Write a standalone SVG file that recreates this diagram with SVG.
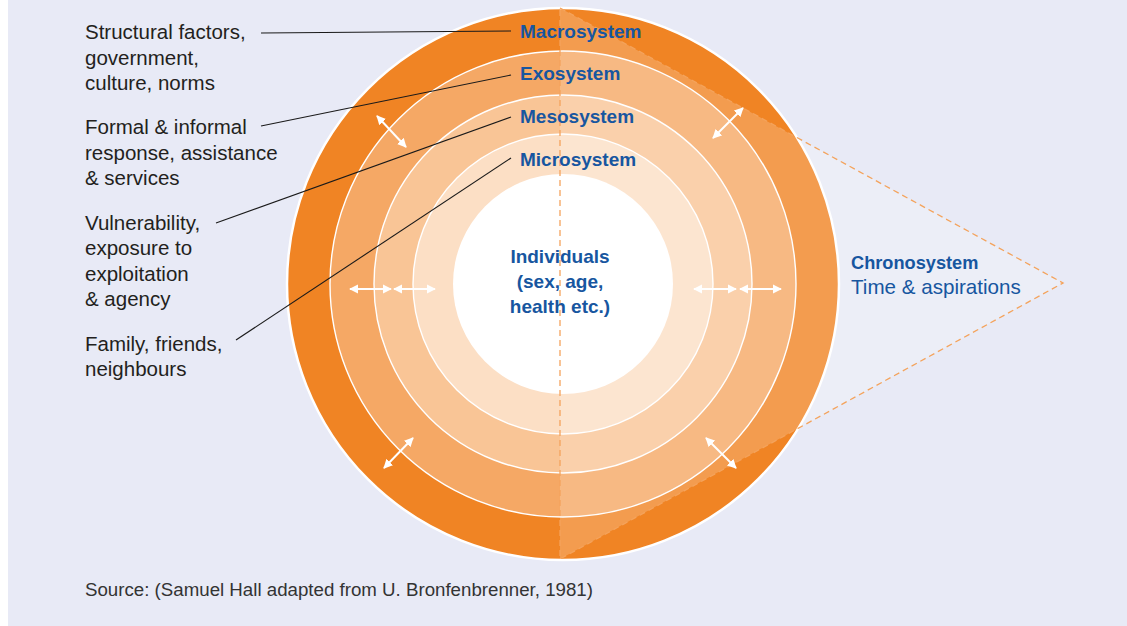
<svg xmlns="http://www.w3.org/2000/svg" width="1127" height="626" viewBox="0 0 1127 626">
<style>
.lbl{font-family:"Liberation Sans",Arial,sans-serif;font-size:20.5px;fill:#231f20}
.sys{font-family:"Liberation Sans",Arial,sans-serif;font-size:19px;font-weight:bold;fill:#1756a0}
.ring{stroke:#ffffff;stroke-width:1.4}
.lead{stroke:#1a1a1a;stroke-width:1.1;fill:none}
.arr{stroke:#ffffff;stroke-width:2;fill:none;marker-start:url(#ah);marker-end:url(#ah)}
</style>
<defs>
<marker id="ah" viewBox="0 0 10 10" refX="9" refY="5" markerWidth="4.6" markerHeight="4.6" orient="auto-start-reverse" markerUnits="strokeWidth">
<path d="M0,0 L10,5 L0,10 z" fill="#ffffff"/>
</marker>
</defs>
<rect x="0" y="0" width="1127" height="626" fill="#ffffff"/>
<rect x="8" y="0" width="1119" height="626" fill="#e8eaf6"/>

<g id="macrosystem"><circle cx="563" cy="284" r="276" fill="#f08424" stroke="#ffffff" stroke-width="2.5"/></g>
<g id="exosystem"><circle class="ring" cx="563" cy="284" r="233" fill="#f5a865"/></g>
<g id="mesosystem"><circle class="ring" cx="563" cy="284" r="189" fill="#f9c596"/></g>
<g id="microsystem"><circle class="ring" cx="563" cy="284" r="150" fill="#fcdfc5"/></g>
<g id="individuals"><circle cx="563" cy="284" r="110" fill="#ffffff"/></g>

<g id="chronosystem">
<polygon points="560,8 1063,283 560,559" fill="#ffffff" fill-opacity="0.2" stroke="#f4a35c" stroke-width="1.3" stroke-dasharray="6 4"/>
</g>

<g id="connectors">
<line class="lead" x1="261" y1="33" x2="511" y2="31"/>
<line class="lead" x1="261" y1="126" x2="511" y2="75"/>
<line class="lead" x1="216" y1="223" x2="511" y2="117"/>
<line class="lead" x1="236" y1="340" x2="511" y2="158"/>
<line class="arr" x1="350" y1="289" x2="391" y2="289"/>
<line class="arr" x1="394" y1="289" x2="435" y2="289"/>
<line class="arr" x1="694" y1="289" x2="736" y2="289"/>
<line class="arr" x1="740" y1="289" x2="781" y2="289"/>
<line class="arr" x1="377" y1="116" x2="406" y2="147"/>
<line class="arr" x1="713" y1="138" x2="743" y2="108"/>
<line class="arr" x1="384" y1="468" x2="413" y2="438"/>
<line class="arr" x1="706" y1="438" x2="736" y2="468"/>
</g>

<g id="system-labels">
<text class="sys" x="520" y="37.5">Macrosystem</text>
<text class="sys" x="520" y="80">Exosystem</text>
<text class="sys" x="520" y="123">Mesosystem</text>
<text class="sys" x="520" y="166">Microsystem</text>
<text class="sys" text-anchor="middle" x="560" y="263">Individuals</text>
<text class="sys" text-anchor="middle" x="560" y="288">(sex, age,</text>
<text class="sys" text-anchor="middle" x="560" y="313">health etc.)</text>
<text class="sys" x="851" y="269" style="font-size:18.2px">Chronosystem</text>
<text x="851" y="294" style="font-family:'Liberation Sans',Arial,sans-serif;font-size:20.6px;fill:#1756a0">Time &amp; aspirations</text>
</g>

<g id="left-labels">
<text class="lbl" x="85" y="39">Structural factors,</text>
<text class="lbl" x="85" y="64.5">government,</text>
<text class="lbl" x="85" y="90">culture, norms</text>
<text class="lbl" x="85" y="134">Formal &amp; informal</text>
<text class="lbl" x="85" y="160">response, assistance</text>
<text class="lbl" x="85" y="185">&amp; services</text>
<text class="lbl" x="85" y="230">Vulnerability,</text>
<text class="lbl" x="85" y="255">exposure to</text>
<text class="lbl" x="85" y="281">exploitation</text>
<text class="lbl" x="85" y="306">&amp; agency</text>
<text class="lbl" x="85" y="351">Family, friends,</text>
<text class="lbl" x="85" y="376">neighbours</text>
</g>

<text x="85" y="596" style="font-family:'Liberation Sans',Arial,sans-serif;font-size:18.7px;fill:#333333">Source: (Samuel Hall adapted from U. Bronfenbrenner, 1981)</text>
</svg>
